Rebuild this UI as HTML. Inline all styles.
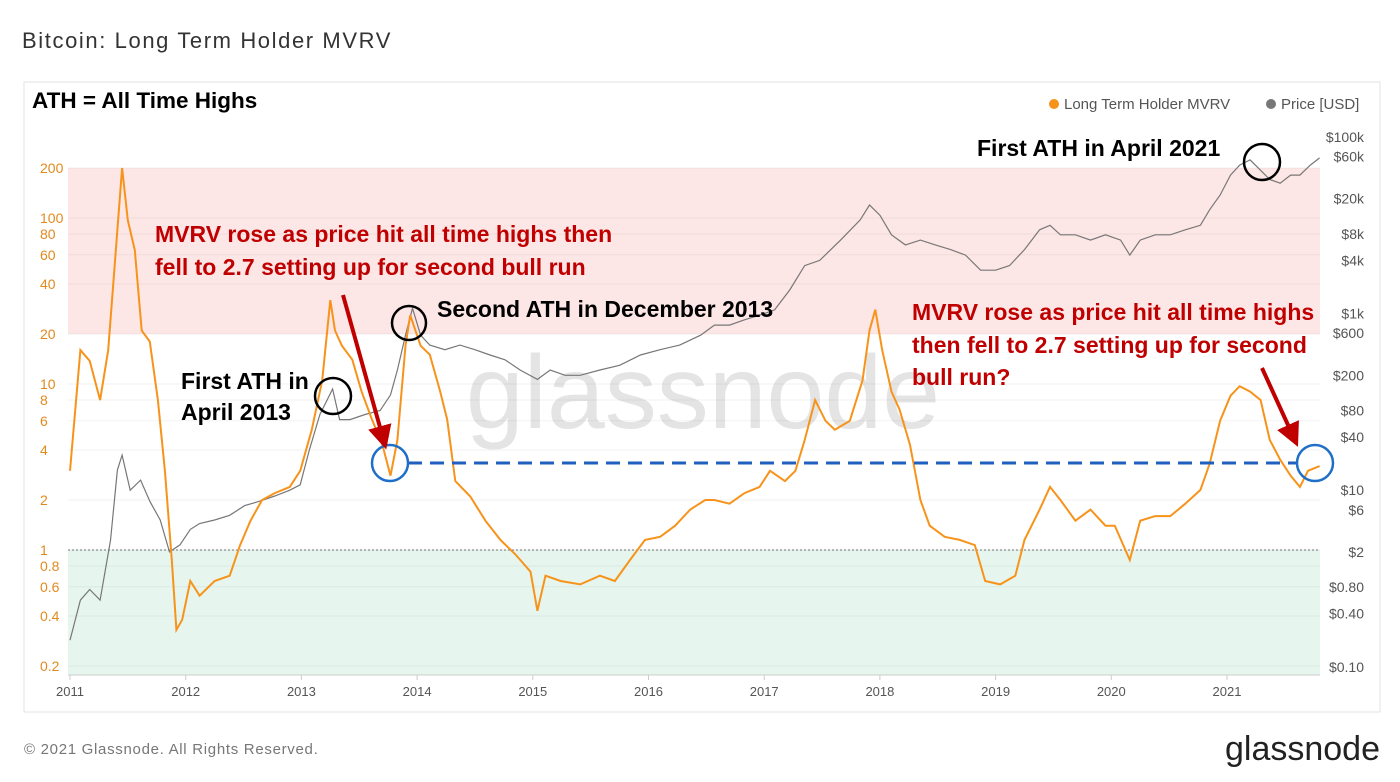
<!DOCTYPE html>
<html><head><meta charset="utf-8"><style>
html,body{margin:0;padding:0;background:#fff;width:1400px;height:782px;overflow:hidden}
text{font-family:"Liberation Sans",sans-serif}
.ann{font-family:"Liberation Sans",sans-serif;font-weight:bold;font-size:23px}
</style></head><body>
<svg id="chart" width="1400" height="782" xmlns="http://www.w3.org/2000/svg">
<text x="22" y="48" font-size="22" letter-spacing="1.6" fill="#333">Bitcoin: Long Term Holder MVRV</text>
<rect x="24" y="82" width="1356" height="630" fill="none" stroke="#e3e3e3"/>
<text x="703" y="428" font-size="104" fill="#e4e4e4" text-anchor="middle">glassnode</text>
<g id="bands"></g><g id="grid"></g><g id="axes"></g><g id="series"></g>
<g>
<circle cx="1054" cy="104" r="5" fill="#f7931a"/>
<text x="1064" y="109" font-size="15" fill="#555">Long Term Holder MVRV</text>
<circle cx="1271" cy="104" r="5" fill="#777"/>
<text x="1281" y="109" font-size="15" fill="#555">Price [USD]</text>
</g>
<text class="ann" x="32" y="108" style="font-size:22.5px" fill="#000">ATH = All Time Highs</text>
<text class="ann" fill="#c00000"><tspan x="155" y="242">MVRV rose as price hit all time highs then</tspan><tspan x="155" y="275">fell to 2.7 setting up for second bull run</tspan></text>
<text class="ann" fill="#c00000"><tspan x="912" y="320">MVRV rose as price hit all time highs</tspan><tspan x="912" y="353">then fell to 2.7 setting up for second</tspan><tspan x="912" y="385">bull run?</tspan></text>
<text class="ann" fill="#000"><tspan x="181" y="389">First ATH in</tspan><tspan x="181" y="420">April 2013</tspan></text>
<text class="ann" fill="#000" x="437" y="317">Second ATH in December 2013</text>
<text class="ann" fill="#000" x="977" y="156">First ATH in April 2021</text>
<circle cx="333" cy="396" r="18" fill="none" stroke="#000" stroke-width="2.5"/>
<circle cx="409" cy="323" r="17" fill="none" stroke="#000" stroke-width="2.5"/>
<circle cx="1262" cy="162" r="18" fill="none" stroke="#000" stroke-width="2.5"/>
<line x1="408" y1="463" x2="1297" y2="463" stroke="#1f5fbf" stroke-width="3" stroke-dasharray="14,8"/>
<circle cx="390" cy="463" r="18" fill="none" stroke="#1f6fc8" stroke-width="2.5"/>
<circle cx="1315" cy="463" r="18" fill="none" stroke="#1f6fc8" stroke-width="2.5"/>
<defs><marker id="ah" markerWidth="6" markerHeight="6" refX="3" refY="3" orient="auto"><path d="M0,0L6,3L0,6z" fill="#c00000"/></marker></defs>
<line x1="343" y1="295" x2="383" y2="438" stroke="#c00000" stroke-width="4" marker-end="url(#ah)"/>
<line x1="1262" y1="368" x2="1293" y2="436" stroke="#c00000" stroke-width="4" marker-end="url(#ah)"/>
<text x="24" y="754" font-size="15" letter-spacing="0.7" fill="#777">© 2021 Glassnode. All Rights Reserved.</text>
<text x="1380" y="760" font-size="34" fill="#222" text-anchor="end">glassnode</text>
</svg>
<script>
const mvrvYears=[2011.00,2011.09,2011.17,2011.26,2011.33,2011.39,2011.45,2011.50,2011.56,2011.62,2011.69,2011.76,2011.82,2011.88,2011.92,2011.97,2012.04,2012.12,2012.25,2012.38,2012.47,2012.56,2012.66,2012.77,2012.90,2012.99,2013.09,2013.18,2013.25,2013.29,2013.35,2013.44,2013.52,2013.61,2013.70,2013.77,2013.83,2013.90,2013.94,2014.03,2014.11,2014.20,2014.26,2014.33,2014.46,2014.59,2014.72,2014.85,2014.98,2015.04,2015.11,2015.24,2015.41,2015.58,2015.71,2015.84,2015.97,2016.10,2016.23,2016.36,2016.49,2016.57,2016.70,2016.83,2016.96,2017.05,2017.18,2017.27,2017.35,2017.44,2017.53,2017.61,2017.74,2017.85,2017.91,2017.96,2018.02,2018.10,2018.17,2018.26,2018.35,2018.43,2018.56,2018.69,2018.82,2018.91,2019.04,2019.17,2019.25,2019.38,2019.47,2019.56,2019.69,2019.82,2019.95,2020.03,2020.16,2020.25,2020.38,2020.51,2020.64,2020.77,2020.85,2020.94,2021.03,2021.11,2021.20,2021.29,2021.37,2021.46,2021.55,2021.63,2021.70,2021.80];
const mvrvValues=[3.0,16,13.8,8,16,56,200,97,64,21,18,8,3,0.87,0.33,0.38,0.65,0.53,0.65,0.7,1.07,1.5,2,2.2,2.4,3,5.3,10.5,32,21,17,14,9,6.1,4.3,2.8,4.6,17,26,17,15,9,6.1,2.6,2.1,1.5,1.15,0.94,0.74,0.43,0.7,0.65,0.62,0.7,0.65,0.87,1.15,1.2,1.4,1.75,2.0,2.0,1.9,2.2,2.4,3,2.6,3,4.6,8,6,5.3,6,10.5,21,28,16,9,7,4.3,2,1.4,1.2,1.15,1.07,0.65,0.62,0.7,1.15,1.75,2.4,2,1.5,1.75,1.4,1.4,0.87,1.5,1.6,1.6,1.9,2.3,3.3,6,8.5,9.7,9,8,4.6,3.5,2.8,2.4,3,3.2];
const priceYears=[2011.00,2011.09,2011.17,2011.26,2011.35,2011.41,2011.45,2011.52,2011.61,2011.69,2011.78,2011.86,2011.95,2012.04,2012.12,2012.25,2012.38,2012.51,2012.64,2012.77,2012.90,2012.99,2013.07,2013.16,2013.27,2013.33,2013.42,2013.55,2013.68,2013.77,2013.83,2013.90,2013.96,2014.03,2014.11,2014.24,2014.37,2014.50,2014.63,2014.76,2014.89,2015.04,2015.15,2015.28,2015.41,2015.58,2015.75,2015.93,2016.10,2016.27,2016.45,2016.57,2016.70,2016.83,2016.96,2017.09,2017.22,2017.35,2017.48,2017.66,2017.83,2017.91,2018.00,2018.10,2018.22,2018.35,2018.48,2018.61,2018.74,2018.87,2019.00,2019.12,2019.25,2019.38,2019.47,2019.56,2019.69,2019.82,2019.95,2020.08,2020.16,2020.25,2020.38,2020.51,2020.64,2020.77,2020.85,2020.94,2021.03,2021.11,2021.20,2021.29,2021.37,2021.46,2021.55,2021.63,2021.72,2021.80];
const priceValues=[0.2,0.57,0.75,0.57,2.7,17,25,10,13,7.5,4.6,2,2.4,3.6,4.2,4.6,5.2,6.7,7.5,8.6,10,11.5,29,72,140,63,63,72,80,120,230,570,1150,570,440,390,440,390,340,300,230,180,230,200,200,230,260,340,390,440,570,740,740,850,960,1100,1850,3500,4000,6800,11500,17000,13000,7800,6000,6800,6000,5300,4600,3100,3100,3500,5300,8900,10000,7800,7800,6800,7800,6800,4600,6800,7800,7800,8900,10000,15000,22000,37000,48000,55000,42000,33000,30000,37000,37000,48000,58000];
const leftTicks=[200,100,80,60,40,20,10,8,6,4,2,1,0.8,0.6,0.4,0.2];
const rightTicks=[100000,60000,20000,8000,4000,1000,600,200,80,40,10,6,2,0.8,0.4,0.1];
const rightTickLabels=["$100k","$60k","$20k","$8k","$4k","$1k","$600","$200","$80","$40","$10","$6","$2","$0.80","$0.40","$0.10"];
const xTicks=[2011,2012,2013,2014,2015,2016,2017,2018,2019,2020,2021];

const NS="http://www.w3.org/2000/svg";
const X0=70,PXY=115.7,PL=68,PR=1320,PT=168,PB=675;
function xs(y){return X0+(y-2011)*PXY;}
function ym(v){return 168+(Math.log10(200)-Math.log10(v))*166;}
function yp(p){return 137+(5-Math.log10(p))*88.3;}
function mk(t,a,parent){const e=document.createElementNS(NS,t);for(const k in a)e.setAttribute(k,a[k]);parent.appendChild(e);return e;}
const bands=document.getElementById('bands'),grid=document.getElementById('grid'),axes=document.getElementById('axes'),series=document.getElementById('series');
let b=mk('rect',{x:PL,y:ym(200),width:PR-PL,height:ym(20)-ym(200),fill:'#fde6e6'},bands);


b=mk('rect',{x:PL,y:ym(1),width:PR-PL,height:PB-ym(1),fill:'#e6f6ee'},bands);


b=mk('line',{x1:PL,x2:PR,y1:ym(1),y2:ym(1),stroke:'#777','stroke-dasharray':'2,2'},bands);


leftTicks.forEach(v=>{
  const g=mk('line',{x1:PL,x2:PR,y1:ym(v),y2:ym(v),stroke:'#000','stroke-opacity':0.05},grid);
  
  
  const t=mk('text',{x:40,y:ym(v)+5,'font-size':14,fill:'#e08a1e'},axes);t.textContent=v;
  
  
});
rightTicks.forEach((p,i)=>{
  const t=mk('text',{x:1364,y:yp(p)+5,'font-size':14,fill:'#555','text-anchor':'end'},axes);t.textContent=rightTickLabels[i];
  
  
});
let ax=mk('line',{x1:PL,x2:PR,y1:PB,y2:PB,stroke:'#ccc'},axes);


xTicks.forEach(yr=>{
  const tk=mk('line',{x1:xs(yr),x2:xs(yr),y1:PB,y2:PB+5,stroke:'#ccc'},axes);
  
  
  const t=mk('text',{x:xs(yr),y:PB+21,'font-size':13,fill:'#555','text-anchor':'middle'},axes);t.textContent=yr;
  
  
});
let pp=mk('path',{d:priceYears.map((y,i)=>(i?'L':'M')+xs(y).toFixed(1)+','+yp(priceValues[i]).toFixed(1)).join(''),fill:'none',stroke:'#777','stroke-width':1.2},series);


let mp=mk('path',{d:mvrvYears.map((y,i)=>(i?'L':'M')+xs(y).toFixed(1)+','+ym(mvrvValues[i]).toFixed(1)).join(''),fill:'none',stroke:'#f7931a','stroke-width':2},series);


</script>
</body></html>
